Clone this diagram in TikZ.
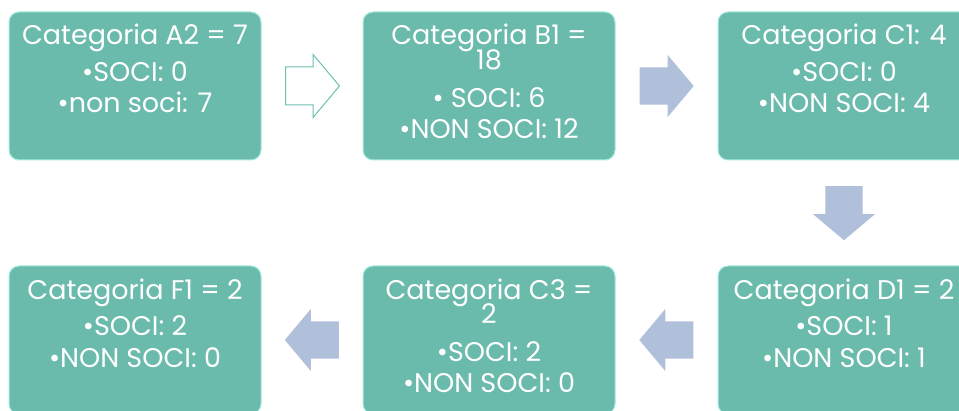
\documentclass[tikz,border=0pt]{standalone}
\usepackage{fontspec}
\setmainfont{Poppins}
\usepackage{tikz}
\usetikzlibrary{positioning,calc,shapes.arrows}

\definecolor{tealbox}{HTML}{6BBBAD}
\definecolor{tealedge}{HTML}{A6EBDF}
\definecolor{tealline}{HTML}{6DC0B0}
\definecolor{arrowblue}{HTML}{B0BFDA}

\newcommand{\cattext}[1]{\parbox[c][148pt][t]{246pt}{\centering\rule{0pt}{33pt}#1}}

\tikzset{
  catbox/.style={draw=tealedge, line width=1pt, fill=tealbox, rounded corners=10pt,
    minimum width=252pt, minimum height=148pt, inner sep=0pt, text=white,
    font=\fontsize{27}{31}\selectfont},
  blockarrow/.style={single arrow, fill=arrowblue, draw=none, inner sep=18.5pt,
    minimum height=54pt, single arrow head extend=12.5pt, single arrow tip angle=100,
    anchor=tail},
  hollowarrow/.style={blockarrow, fill=white, draw=tealline, line width=1pt}
}

\begin{document}
\begin{tikzpicture}[x=1pt, y=1pt]
\useasboundingbox (0,0) rectangle (959,410);

% top row
\node[catbox] at (135,324) (a2){\cattext{Categoria A2 = 7\\[6pt]
  •SOCI: 0\\
  •non soci: 7}};
\node[catbox, right=101pt of a2] (b1){\cattext{Categoria B1 =\\[-6pt]
  18\\[7pt]
  • SOCI: 6\\
  •NON SOCI: 12}};
\node[catbox, right=102pt of b1] (c1){\cattext{Categoria C1: 4\\[6pt]
  •SOCI: 0\\
  •NON SOCI: 4}};

% bottom row
\node[catbox, below=105pt of c1] (d1){\cattext{Categoria D1 = 2\\[6pt]
  •SOCI: 1\\
  •NON SOCI: 1}};
\node[catbox, below=105pt of b1] (c3){\cattext{Categoria C3 =\\[-6pt]
  2\\[7pt]
  •SOCI: 2\\
  •NON SOCI: 0}};
\node[catbox, below=105pt of a2] (f1){\cattext{Categoria F1 = 2\\[6pt]
  •SOCI: 2\\
  •NON SOCI: 0}};

% arrows, tail 27pt back from the gap centre
\node[hollowarrow] (ab) at ($($(a2)!0.5!(b1)$)!27pt!(a2)$) {};
\node[blockarrow] (bc) at ($($(b1)!0.5!(c1)$)!27pt!(b1)$) {};
\node[blockarrow, shape border rotate=270] (cd) at ($($(c1)!0.5!(d1)$)!27pt!(c1)$) {};
\node[blockarrow, shape border rotate=180] (dc) at ($($(d1)!0.5!(c3)$)!27pt!(d1)$) {};
\node[blockarrow, shape border rotate=180] (cf) at ($($(c3)!0.5!(f1)$)!27pt!(c3)$) {};
\end{tikzpicture}
\end{document}
